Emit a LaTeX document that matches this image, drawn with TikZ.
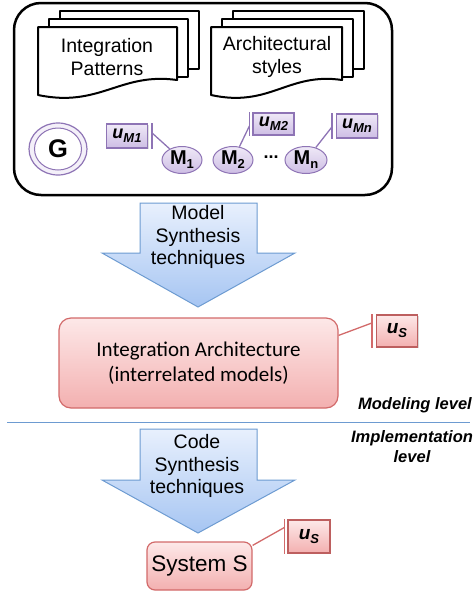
\documentclass[tikz,border=0pt]{standalone}
\usepackage{fontspec}
\setmainfont{Liberation Sans}
\newfontfamily\carlito{Carlito}
\usetikzlibrary{shapes.geometric,shadows}
\definecolor{purp}{HTML}{8E74B5}
\definecolor{lavtop}{HTML}{EFE9F7}
\definecolor{lavbot}{HTML}{CDBDE4}
\definecolor{bluetop}{HTML}{E8F0FD}
\definecolor{bluebot}{HTML}{A6C5F2}
\definecolor{blueline}{HTML}{6D9BD1}
\definecolor{redtop}{HTML}{FDE8E8}
\definecolor{redbot}{HTML}{F3B0B0}
\definecolor{redline}{HTML}{D26A6A}
\tikzset{
  doc/.style={draw=black, line width=2pt, fill=white, line join=round},
  doctext/.style={align=center, font=\fontsize{19.5}{23}\selectfont},
  modnode/.style={ellipse, draw=purp, line width=1pt, top color=lavtop, bottom color=lavbot,
    minimum width=40pt, minimum height=27pt, inner sep=0pt, font=\bfseries\fontsize{20}{20}\selectfont},
  ubox/.style={draw=purp, line width=1.2pt, top color=lavtop, bottom color=lavbot,
    minimum width=41pt, minimum height=24pt, inner sep=0pt,
    drop shadow={opacity=0.25, shadow xshift=1pt, shadow yshift=-1pt},
    font=\bfseries\itshape\fontsize{18}{18}\selectfont},
  ulink/.style={draw=purp, line width=1.3pt},
  bigarrow/.style={draw=blueline, line width=1pt, top color=bluetop, bottom color=bluebot, line join=miter},
  arrowtext/.style={align=center, font=\fontsize{19.5}{22.5}\selectfont},
  redbox/.style={draw=redline, line width=1.2pt, top color=redtop, bottom color=redbot},
  usbox/.style={draw=redline!90!black, line width=1.3pt, top color=redtop, bottom color=redbot,
    inner sep=0pt, drop shadow={opacity=0.3, shadow xshift=1.2pt, shadow yshift=-1.2pt},
    font=\bfseries\itshape\fontsize{19}{19}\selectfont},
  rlink/.style={draw=redline, line width=1.3pt},
  levellabel/.style={font=\bfseries\itshape\fontsize{16.5}{20}\selectfont},
}
\newcommand{\subt}[1]{\raisebox{-4pt}{\fontsize{13}{13}\selectfont #1}}
\begin{document}
\begin{tikzpicture}[x=1pt,y=-1pt]
\useasboundingbox (0,0) rectangle (476,592);

% outer frame
\node[draw=black, line width=2.5pt, rounded corners=27pt, minimum width=378pt, minimum height=192pt, inner sep=0pt] (frame) at (203,99) {};

% Integration Patterns doc stack
\draw[doc] (60,11) rectangle (199,69);
\draw[doc] (49,19) rectangle (188,77);
\draw[doc] (38,27) -- (177,27) -- (177,80) .. controls (120,72) and (100,108) .. (38,95) -- cycle;
\node[doctext] (ip) at (107,57) {Integration\\Patterns};

% Architectural styles doc stack
\draw[doc] (233,11) rectangle (364,69);
\draw[doc] (222,19) rectangle (353,77);
\draw[doc] (211,27) -- (342,27) -- (342,80) .. controls (288,72) and (270,108) .. (211,95) -- cycle;
\node[doctext] (as) at (277,57) {Architectural\\styles};

% G
\node[ellipse, draw=purp, line width=1.2pt, fill=lavtop!70!white, minimum width=58pt, minimum height=52pt, inner sep=0pt] (gout) at (58,149) {};
\node[ellipse, draw=purp, line width=1pt, fill=white, minimum width=47pt, minimum height=42pt, inner sep=0pt,
  font=\bfseries\fontsize{25.5}{25.5}\selectfont] (g) at (58,149) {G};

% models
\node[modnode] (m1) at (182,160) {M\subt{1}};
\node[modnode] (m2) at (233,160) {M\subt{2}};
\node[modnode, minimum width=42pt] (mn) at (306,160) {M\subt{n}};
\node[font=\bfseries\fontsize{18}{18}\selectfont, inner sep=0pt] (dots) at (271,157) {...};

\node[ubox] (um1) at (127,136) {u\subt{M1}};
\node[ubox, minimum height=22pt] (um2) at (273.5,124) {u\subt{M2}};
\node[ubox] (umn) at (357,126) {u\subt{Mn}};

\draw[ulink] ([xshift=4pt]um1.north east) -- ([xshift=4pt]um1.south east);
\coordinate (bm1) at ([xshift=4pt,yshift=3pt]um1.east);
\draw[ulink] (bm1) -- (m1);
\draw[ulink] ([xshift=-3pt]um2.north west) -- ([xshift=-3pt]um2.south west);
\coordinate (bm2) at ([xshift=-3pt,yshift=-2pt]um2.west);
\draw[ulink] (bm2) -- (m2);
\draw[ulink] ([xshift=-4pt]umn.north west) -- ([xshift=-4pt]umn.south west);
\coordinate (bmn) at ([xshift=-4pt,yshift=-1pt]umn.west);
\draw[ulink] (bmn) -- (mn);

% Model synthesis arrow
\draw[bigarrow] (140,203) -- (257,203) -- (257,253) -- (295,253) -- (198,307) -- (102,253) -- (140,253) -- cycle;
\node[arrowtext] (msyn) at (198,237) {Model\\Synthesis\\techniques};

% Integration architecture
\node[redbox, rounded corners=12pt, minimum width=279pt, minimum height=90pt, inner sep=0pt,
  align=center, font=\carlito\fontsize{21}{25}\selectfont] (ia) at (198.5,363) {Integration Architecture\\(interrelated models)};
\node[usbox, minimum width=41pt, minimum height=32pt] (us1) at (397,331) {u\subt{S}};
\draw[rlink] ([xshift=-4pt]us1.north west) -- ([xshift=-4pt]us1.south west);
\coordinate (bs1) at ([xshift=-4pt,yshift=8pt]us1.west);
\draw[rlink] (bs1) -- ([yshift=-18pt]ia.north east);

% levels
\node[levellabel, anchor=east, inner sep=0pt] (ml) at (472,405) {Modeling level};
\coordinate (dl) at (7,422);
\coordinate (dr) at (470,422);
\draw[draw=blueline, line width=1pt] (dl) -- (dr);
\node[levellabel, align=center, inner sep=0pt] (il) at (412,447) {Implementation\\level};

% Code synthesis arrow
\draw[bigarrow] (140,429) -- (257,429) -- (257,480) -- (295,480) -- (198,533) -- (102,480) -- (140,480) -- cycle;
\node[arrowtext] (csyn) at (197,466) {Code\\Synthesis\\techniques};

% System S
\node[redbox, rounded corners=8pt, minimum width=105pt, minimum height=48pt, inner sep=0pt,
  font=\fontsize{22.5}{22.5}\selectfont] (sys) at (199.5,566) {System S};
\node[usbox, minimum width=42pt, minimum height=33pt] (us2) at (309,536.5) {u\subt{S}};
\draw[rlink] ([xshift=-3pt]us2.north west) -- ([xshift=-3pt]us2.south west);
\coordinate (bs2) at ([xshift=-3pt,yshift=9pt]us2.west);
\draw[rlink] (bs2) -- ([yshift=-4pt]sys.north east);
\end{tikzpicture}
\end{document}
